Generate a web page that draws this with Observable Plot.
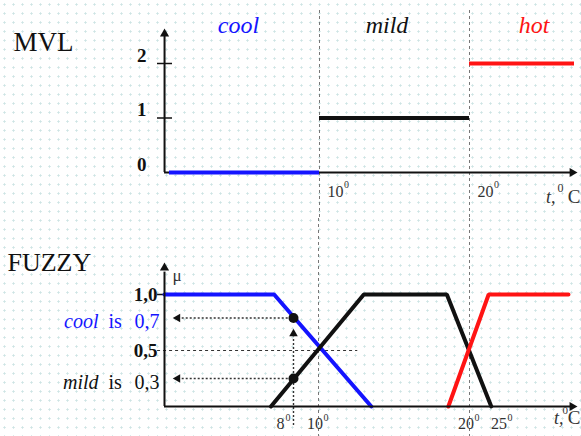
<!DOCTYPE html>
<html><head><meta charset="utf-8">
<script src="https://cdn.jsdelivr.net/npm/d3@7"></script>
<script src="https://cdn.jsdelivr.net/npm/@observablehq/plot@0.6"></script>
<style>
html,body{margin:0;padding:0;background:#fff}
#chart{width:581px;height:436px;background-color:#fff;background-image:radial-gradient(circle,#cde4e4 0.9px,transparent 1.3px);background-size:9px 9px}
#chart svg{display:block}
</style></head><body><div id="chart"></div>
<script>
// ---------- data ----------
const sets = ["cool", "mild", "hot"];
const setColors = ["#1414ff", "#111111", "#ff1414"];
// MVL (crisp) value for each temperature interval
const mvlFrom = [0, 10, 20];
const mvlTo = [10, 20, 27];
const mvlValue = [0, 1, 2];
const mvlLabelX = [4.6, 14.5, 24.3];
const mvlTicks = [0, 1, 2];
const dividers = [10, 20];
const topTickLabels = [10, 20];
// fuzzy membership breakpoints (t in degrees, mu)
const coolT = [0, 6.8, 13.5];          const coolMu = [1, 1, 0];
const mildT = [6.6, 13.0, 18.5, 23.3]; const mildMu = [0, 1, 1, 0];
const hotT = [18.6, 22.9, 35];         const hotMu = [0, 1, 1];
const inputT = 8;
const inputMu = [0.79, 0.25];          // cool, mild at 8 degrees
const inputWords = [["cool", "is", "0,7"], ["mild", "is", "0,3"]];
const fuzzyTicks = [1, 0.5];
const fuzzyTickLabels = ["1,0", "0,5"];
const bottomTickLabels = [8, 10, 20, 25];
// the lower temperature axis is drawn non-uniformly: breakpoints (degrees -> axis position)
const axisDeg = [0, 8, 10, 20, 25];
const axisPos = [164, 293, 318, 469, 502];

// ---------- tables ----------
const mvl = sets.map((s, i) => ({set: s, from: mvlFrom[i], to: mvlTo[i], value: mvlValue[i], lx: mvlLabelX[i]}));
const fuzzy = [
  ...coolT.map((t, i) => ({set: "cool", t, mu: coolMu[i]})),
  ...mildT.map((t, i) => ({set: "mild", t, mu: mildMu[i]})),
  ...hotT.map((t, i) => ({set: "hot", t, mu: hotMu[i]}))
];
const inputs = inputMu.map((mu, i) => ({set: sets[i], mu, w1: inputWords[i][0], w2: inputWords[i][1], w3: inputWords[i][2]}));
const warp = d3.scaleLinear().domain(axisDeg).range(axisPos);

const FONT = "Liberation Serif";
const color = {domain: sets, range: setColors};
const ink = "#111";
const txt = (o) => ({fontFamily: FONT, ...o});

// ---------- top panel (MVL) ----------
const topPlot = Plot.plot({
  width: 581, height: 218,
  marginLeft: 164, marginRight: 0, marginTop: 10, marginBottom: 0,
  style: {background: "transparent", fontFamily: FONT},
  x: {domain: [0, 20], range: [169, 469], axis: null},
  y: {domain: [0, 2], range: [172, 63]},
  color,
  marks: [
    Plot.ruleX(dividers, {stroke: "#777", strokeWidth: 1, strokeDasharray: "3,3"}),
    Plot.ruleY([0], {x1: -0.33, x2: 26.8, stroke: ink, strokeWidth: 2}),
    Plot.ruleX([-0.33], {y1: 0, y2: 2.5, stroke: ink, strokeWidth: 2}),
    Plot.dot([{x: 26.85, y: 0, r: 90}, {x: -0.33, y: 2.545, r: 0}], {x: "x", y: "y", rotate: "r", symbol: "triangle", r: 3.4, fill: ink, stroke: "none"}),
    Plot.ruleY(mvlTicks.slice(1), {x1: -0.8, x2: 0.2, stroke: ink, strokeWidth: 1.5}),
    Plot.ruleY(mvl, {y: "value", x1: "from", x2: "to", stroke: "set", strokeWidth: 4}),
    Plot.text(mvl, txt({x: "lx", y: 2.7, text: "set", fill: "set", fontSize: 24, fontStyle: "italic"})),
    Plot.axisY({ticks: mvlTicks, tickFormat: d => String(d), tickSize: 0, tickPadding: 18, dy: -8, fontSize: 19, fontWeight: "bold", fontFamily: FONT, fill: ink}),
    Plot.text(topTickLabels, txt({x: d => d, y: 0, text: d => String(d), dx: 16, dy: 19, fontSize: 16, fill: "#333"})),
    Plot.text(topTickLabels, txt({x: d => d, y: 0, text: () => "0", dx: 27, dy: 12, fontSize: 10, fill: "#333"})),
    Plot.text(["MVL"], txt({frameAnchor: "top-left", text: d => d, dx: -151, dy: 21, textAnchor: "start", fontSize: 27, fill: ink})),
    Plot.text(["t,"], txt({frameAnchor: "bottom-right", text: d => d, dx: -26, dy: -16, textAnchor: "end", fontSize: 18, fontStyle: "italic", fill: "#333"})),
    Plot.text(["0"], txt({frameAnchor: "bottom-right", text: d => d, dx: -18, dy: -27, fontSize: 12, fill: "#333"})),
    Plot.text(["C"], txt({frameAnchor: "bottom-right", text: d => d, dx: -1, dy: -16, textAnchor: "end", fontSize: 19, fill: "#333"}))
  ]
});

// ---------- bottom panel (FUZZY) ----------
const bottomPlot = Plot.plot({
  width: 581, height: 218,
  marginLeft: 164, marginRight: 0, marginTop: 0, marginBottom: 0,
  style: {background: "transparent", fontFamily: FONT},
  x: {transform: warp, domain: [0, 581], range: [0, 581], axis: null},
  y: {domain: [0, 1], range: [188, 76]},
  color,
  marks: [
    Plot.ruleX(dividers, {stroke: "#777", strokeWidth: 1, strokeDasharray: "3,3"}),
    Plot.ruleY([0.5], {x1: -0.43, x2: 12.6, stroke: "#333", strokeWidth: 1.2, strokeDasharray: "3,3"}),
    Plot.ruleY(fuzzyTicks.slice(0, 1), {x1: -0.43, x2: 0, stroke: ink, strokeWidth: 1.5}),
    // reading arrows
    Plot.ruleY(inputs, {y: "mu", x1: 0.85, x2: inputT, stroke: "#333", strokeWidth: 1.4, strokeDasharray: "2,2"}),
    Plot.dot(inputs, {x: 0.82, y: "mu", rotate: -90, symbol: "triangle", r: 3.2, fill: ink, stroke: "none"}),
    Plot.ruleX([inputT], {y1: -0.17, y2: 0.62, stroke: "#333", strokeWidth: 1.4, strokeDasharray: "2,2"}),
    Plot.dot([inputT], {x: d => d, y: 0.65, rotate: 0, symbol: "triangle", r: 3.2, fill: ink, stroke: "none"}),
    // membership functions
    Plot.line(fuzzy, {x: "t", y: "mu", z: "set", stroke: "set", strokeWidth: 4, strokeLinejoin: "miter"}),
    // axes
    Plot.ruleY([0], {x1: 0, x2: 35.5, stroke: ink, strokeWidth: 2}),
    Plot.ruleX([0], {y1: 0, y2: 1.2, stroke: ink, strokeWidth: 2}),
    Plot.dot([{x: 35.56, y: 0, r: 90}, {x: 0, y: 1.238, r: 0}], {x: "x", y: "y", rotate: "r", symbol: "triangle", r: 3.4, fill: ink, stroke: "none"}),
    Plot.dot(inputs, {x: inputT, y: "mu", r: 5, fill: ink, stroke: "none"}),
    Plot.axisY({ticks: fuzzyTicks, tickFormat: (d) => fuzzyTickLabels[fuzzyTicks.indexOf(d)], tickSize: 0, tickPadding: 7, fontSize: 19, fontWeight: "bold", fontFamily: FONT, fill: ink}),
    Plot.text(["μ"], txt({x: 0, y: 1.17, text: d => d, dx: 8, textAnchor: "start", fontSize: 17, fill: "#333"})),
    Plot.text(inputs, txt({x: 0, y: "mu", text: "w1", fill: "set", dx: -66, dy: 4, textAnchor: "end", fontSize: 20, fontStyle: "italic"})),
    Plot.text(inputs, txt({x: 0, y: "mu", text: "w2", fill: "set", dx: -56, dy: 4, textAnchor: "start", fontSize: 20})),
    Plot.text(inputs, txt({x: 0, y: "mu", text: "w3", fill: "set", dx: -5, dy: 4, textAnchor: "end", fontSize: 20})),
    Plot.text(bottomTickLabels.slice(0, 1), txt({x: d => d, y: 0, text: d => String(d), dx: -13, dy: 17, fontSize: 16, fill: "#333"})),
    Plot.text(bottomTickLabels.slice(0, 1), txt({x: d => d, y: 0, text: () => "0", dx: -5.5, dy: 11, fontSize: 10, fill: "#333"})),
    Plot.text(bottomTickLabels.slice(1), txt({x: d => d, y: 0, text: d => String(d), dx: -3.5, dy: 17, fontSize: 16, fill: "#333"})),
    Plot.text(bottomTickLabels.slice(1), txt({x: d => d, y: 0, text: () => "0", dx: 7.5, dy: 11, fontSize: 10, fill: "#333"})),
    Plot.text(["FUZZY"], txt({frameAnchor: "top-left", text: d => d, dx: -157, dy: 34, textAnchor: "start", fontSize: 26, fill: ink})),
    Plot.text(["t,"], txt({frameAnchor: "bottom-right", text: d => d, dx: -18, dy: -13, textAnchor: "end", fontSize: 18, fontStyle: "italic", fill: "#333"})),
    Plot.text(["0"], txt({frameAnchor: "bottom-right", text: d => d, dx: -13.5, dy: -23, fontSize: 11, fill: "#333"})),
    Plot.text(["C"], txt({frameAnchor: "bottom-right", text: d => d, dx: -1, dy: -13, textAnchor: "end", fontSize: 19, fill: "#333"}))
  ]
});

const chart = document.getElementById("chart");
chart.append(topPlot, bottomPlot);
</script>
</body></html>
